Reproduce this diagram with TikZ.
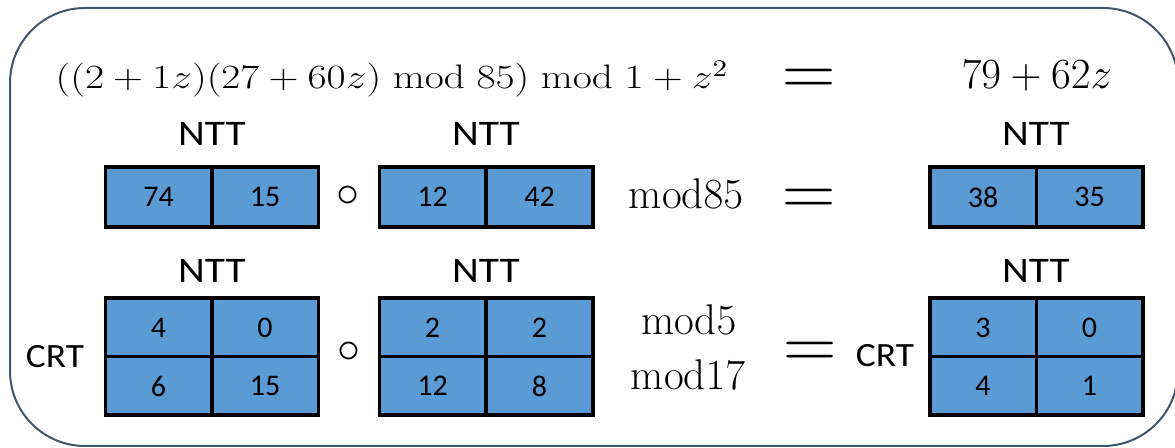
\documentclass[tikz,border=0pt]{standalone}
\IfFileExists{fix-cm.sty}{\usepackage{fix-cm}}{}
\usepackage{fontspec}
\usepackage{graphicx}
\newfontfamily\calfont{Carlito}
\definecolor{cellblue}{HTML}{5B9BD5}
\definecolor{framec}{HTML}{44546A}
\tikzset{
  cellbase/.style={draw=black, line width=1.75pt, fill=cellblue, inner sep=0pt,
    minimum width=53.25pt, font=\calfont\fontsize{15}{17}\selectfont},
  cellA/.style={cellbase, minimum height=30pt},
  cellB/.style={cellbase, minimum height=29.25pt},
  ntt/.style={anchor=base, inner sep=0pt, font=\calfont\fontsize{18}{21}\selectfont},
  crt/.style={anchor=base, inner sep=0pt, font=\calfont\fontsize{17}{20}\selectfont},
  eqsign/.style={anchor=base, inner sep=0pt, font=\fontsize{37}{44}\selectfont},
  opcirc/.style={anchor=base, inner sep=0pt, font=\fontsize{23}{27}\selectfont},
  modtxt/.style={anchor=base, inner sep=0pt, font=\fontsize{21.5}{25}\selectfont},
  eqtxt/.style={anchor=base, inner sep=0pt, font=\fontsize{17}{20}\selectfont},
  frame/.style={draw=framec, line width=1pt, rounded corners=37.5pt}
}
\begin{document}
\begin{tikzpicture}[x=0.5pt,y=-0.5pt]
\useasboundingbox (0,0) rectangle (1175,448);
\draw[frame] (10,8) rectangle (1178,446);

% top equation
\node[eqtxt] (eq) at (392,89) {\scalebox{1.22}[1]{$((2+1z)(27+60z) \bmod 85) \bmod 1+z^2$}};
\node[eqsign] (eq0) at (809,95.5) {$=$};
\node[modtxt] (res) at (1037,89) {$79+62z$};

% NTT labels
\node[ntt] (n1a) at (212,146) {\scalebox{1.15}[1]{NTT}};
\node[ntt] (n1b) at (486,146) {\scalebox{1.15}[1]{NTT}};
\node[ntt] (n1c) at (1036,146) {\scalebox{1.15}[1]{NTT}};
\node[ntt] (n2a) at (212,283) {\scalebox{1.15}[1]{NTT}};
\node[ntt] (n2b) at (486,283) {\scalebox{1.15}[1]{NTT}};
\node[ntt] (n2c) at (1036,283) {\scalebox{1.15}[1]{NTT}};

% row 1 cells
\node[cellA] (a11) at (158.5,197) {74};
\node[cellA] (a12) at (265,197) {15};
\node[cellA] (b11) at (432.5,197) {12};
\node[cellA] (b12) at (539.5,197) {42};
\node[cellA] (c11) at (983,197) {38};
\node[cellA] (c12) at (1089.5,197) {35};
\node[opcirc] (o1) at (348,206.5) {$\circ$};
\node[modtxt] (m85) at (686,209) {$\mathrm{mod}85$};
\node[eqsign] (eq1) at (809,215.5) {$=$};

% row 2 cells
\node[cellB] (a21) at (158.5,327.5) {4};
\node[cellB] (a22) at (265,327.5) {0};
\node[cellB] (a23) at (158.5,386) {6};
\node[cellB] (a24) at (265,386) {15};
\node[cellB] (b21) at (432.5,327.5) {2};
\node[cellB] (b22) at (539.5,327.5) {2};
\node[cellB] (b23) at (432.5,386) {12};
\node[cellB] (b24) at (539.5,386) {8};
\node[cellB] (c21) at (983,327.5) {3};
\node[cellB] (c22) at (1089.5,327.5) {0};
\node[cellB] (c23) at (983,386) {4};
\node[cellB] (c24) at (1089.5,386) {1};
\node[crt] (crt1) at (55,368) {\scalebox{1.1}[1]{CRT}};
\node[crt] (crt2) at (885,367) {\scalebox{1.1}[1]{CRT}};
\node[opcirc] (o2) at (349,362.5) {$\circ$};
\node[modtxt] (m5) at (689,335) {$\mathrm{mod}5$};
\node[modtxt] (m17) at (688,390) {$\mathrm{mod}17$};
\node[eqsign] (eq2) at (810,368.5) {$=$};
\end{tikzpicture}
\end{document}
